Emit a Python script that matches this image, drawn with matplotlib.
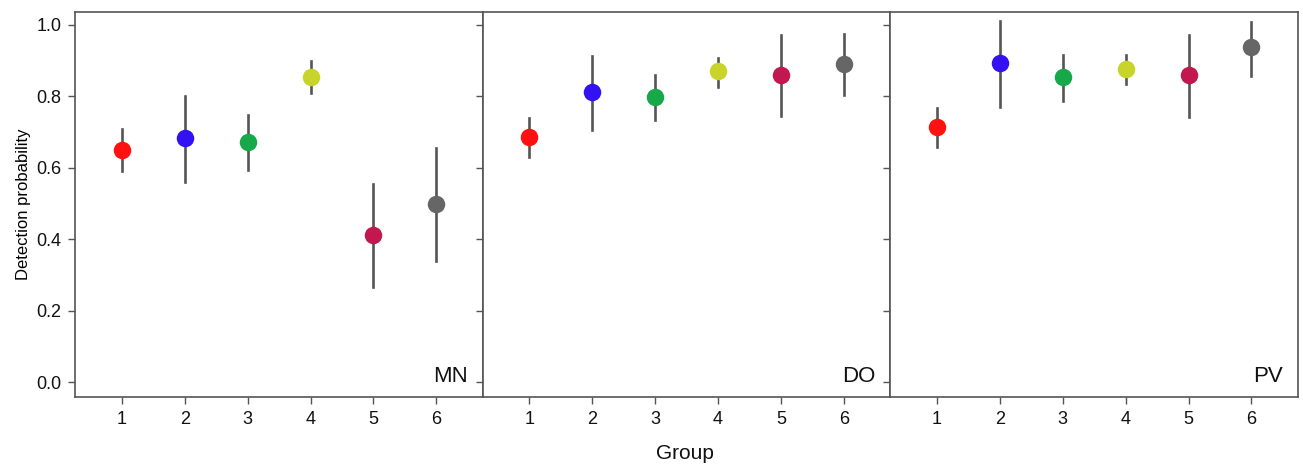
import matplotlib
matplotlib.use('Agg')
import matplotlib.pyplot as plt
import numpy as np

plt.rcParams['font.family'] = ['Liberation Sans', 'DejaVu Sans']

groups = [1, 2, 3, 4, 5, 6]
sites = ['MN', 'DO', 'PV']
colors = ['#FF1111', '#3311F5', '#17A84A', '#C9D42A', '#C3174F', '#666666']

# estimate, lower, upper for each site
mn_est = [0.651, 0.683, 0.672, 0.855, 0.412, 0.500]
mn_lo = [0.592, 0.561, 0.595, 0.809, 0.266, 0.340]
mn_hi = [0.709, 0.802, 0.747, 0.900, 0.555, 0.657]

do_est = [0.687, 0.811, 0.799, 0.870, 0.859, 0.891]
do_lo = [0.631, 0.706, 0.735, 0.827, 0.744, 0.804]
do_hi = [0.739, 0.912, 0.859, 0.908, 0.972, 0.976]

pv_est = [0.715, 0.893, 0.853, 0.876, 0.859, 0.939]
pv_lo = [0.659, 0.771, 0.788, 0.835, 0.743, 0.857]
pv_hi = [0.767, 1.010, 0.917, 0.917, 0.972, 1.008]

data = {
    'MN': (mn_est, mn_lo, mn_hi),
    'DO': (do_est, do_lo, do_hi),
    'PV': (pv_est, pv_lo, pv_hi),
}

fig = plt.figure(figsize=(13.03, 4.65), dpi=100)
left, right = 75.3 / 1303, 1298 / 1303
bottom, top = 1 - 396.7 / 465, 1 - 11.7 / 465
w = (right - left) / 3

axc = '#555555'
for i, site in enumerate(sites):
    ax = fig.add_axes([left + i * w, bottom, w, top - bottom])
    est, lo, hi = data[site]
    for g, e, l, h, c in zip(groups, est, lo, hi, colors):
        ax.plot([g, g], [l, h], color='#555555', lw=1.9, zorder=2)
        ax.plot(g, e, 'o', color=c, markersize=12.6, markeredgewidth=0, zorder=3)
    ax.set_xlim(0.26, 6.74)
    ax.set_ylim(-0.04, 1.037)
    ax.set_xticks(groups)
    ax.set_yticks([0.0, 0.2, 0.4, 0.6, 0.8, 1.0])
    ax.tick_params(direction='out', length=5, width=1, color=axc,
                   labelsize=13, pad=5, labelcolor='#111111')
    if i == 0:
        ax.set_yticklabels(['0.0', '0.2', '0.4', '0.6', '0.8', '1.0'])
        ax.set_ylabel('Detection probability', fontsize=12, labelpad=4)
    else:
        ax.set_yticklabels([])
    for sp in ax.spines.values():
        sp.set_color(axc)
        sp.set_linewidth(1.2)
    ax.text(0.963, 0.026, site, transform=ax.transAxes, ha='right', va='bottom',
            fontsize=16, color='#111111')

fig.text(685 / 1303, 1 - 453 / 465, 'Group', ha='center', va='center', fontsize=15,
         color='#111111')

fig.savefig('out.png', dpi=100)
